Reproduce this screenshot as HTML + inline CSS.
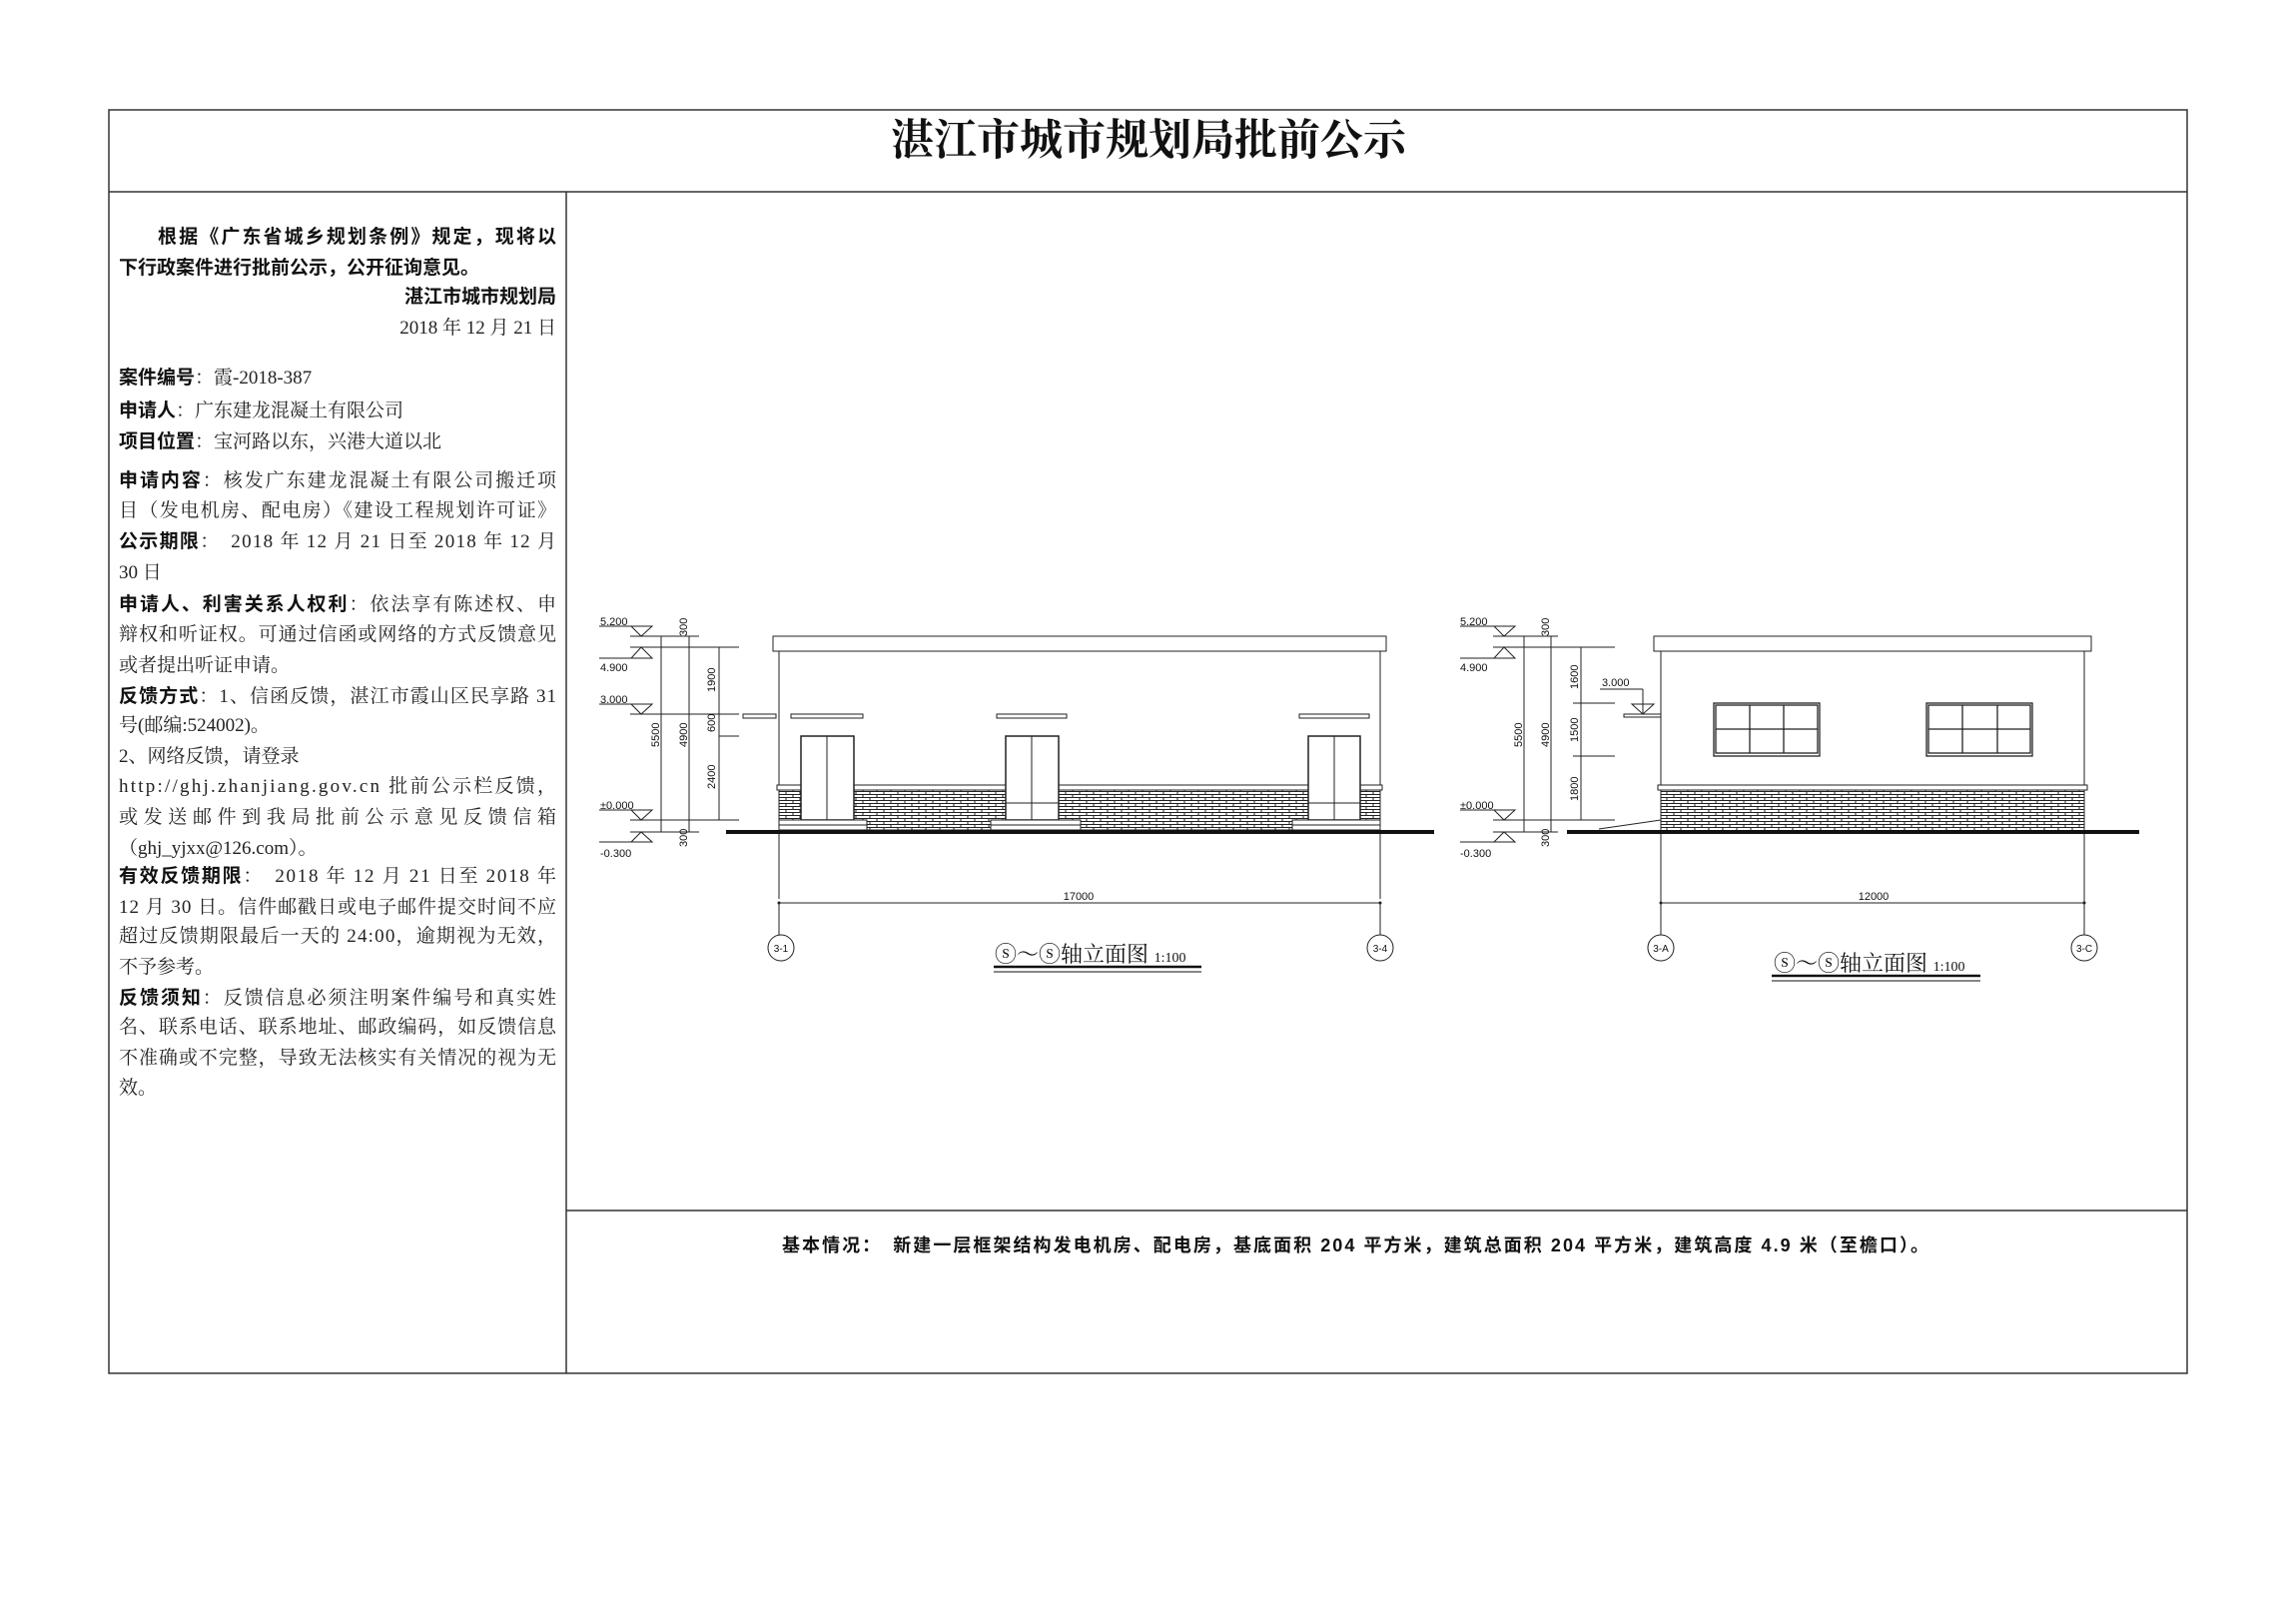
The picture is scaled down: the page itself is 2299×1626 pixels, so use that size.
<!DOCTYPE html>
<html><head><meta charset="utf-8"><style>
html,body{margin:0;padding:0;background:#fff}
svg{display:block}
.n{font-family:"Liberation Serif","Noto Serif CJK SC",serif;font-size:19px;fill:#222}
.b{font-family:"Liberation Sans","Noto Sans CJK SC",sans-serif;font-weight:bold;fill:#111}
.d{font-family:"Liberation Sans",sans-serif;font-size:11px;fill:#111}
</style></head><body>
<svg width="2299" height="1626" viewBox="0 0 2299 1626" xmlns="http://www.w3.org/2000/svg">
<defs>
<pattern id="brick" width="14" height="6" patternUnits="userSpaceOnUse">
<rect width="14" height="6" fill="#fff"/>
<path d="M0 0.5H14M0 3.5H14M3 0.5V3.5M10 3.5V6.5" stroke="#222" stroke-width="1" fill="none"/>
</pattern>
</defs>
<g fill="none" stroke="#333" stroke-width="1.5">
<rect x="109" y="110" width="2081" height="1265"/>
<line x1="109" y1="192" x2="2190" y2="192"/>
<line x1="567" y1="192" x2="567" y2="1375"/>
<line x1="567" y1="1212" x2="2190" y2="1212"/>
</g>
<text x="1150" y="155" text-anchor="middle" font-family="Liberation Serif,'Noto Serif CJK SC',serif" font-weight="bold" font-size="43" fill="#111">湛江市城市规划局批前公示</text>
<text x="783" y="1253" class="b" font-size="18" font-family="'Noto Serif CJK SC',serif" textLength="1148" lengthAdjust="spacing">基本情况：　新建一层框架结构发电机房、配电房，基底面积 204 平方米，建筑总面积 204 平方米，建筑高度 4.9 米（至檐口）。</text>

<!-- left text -->
<g class="n">
<text x="158" y="243" class="b" font-size="19" textLength="399" lengthAdjust="spacing">根据《广东省城乡规划条例》规定，现将以</text>
<text x="119" y="274" class="b" font-size="19">下行政案件进行批前公示，公开征询意见。</text>
<text x="557" y="303" class="b" font-size="19" text-anchor="end">湛江市城市规划局</text>
<text x="557" y="334" text-anchor="end">2018 年 12 月 21 日</text>
<text x="119" y="384"><tspan class="b">案件编号</tspan>：霞-2018-387</text>
<text x="119" y="417"><tspan class="b">申请人</tspan>：广东建龙混凝土有限公司</text>
<text x="119" y="448"><tspan class="b">项目位置</tspan>：宝河路以东，兴港大道以北</text>
<text x="119" y="487" textLength="438" lengthAdjust="spacing"><tspan class="b">申请内容</tspan>：核发广东建龙混凝土有限公司搬迁项</text>
<text x="119" y="517" textLength="438" lengthAdjust="spacing">目（发电机房、配电房）《建设工程规划许可证》</text>
<text x="119" y="548" textLength="438" lengthAdjust="spacing"><tspan class="b">公示期限</tspan>：　2018 年 12 月 21 日至 2018 年 12 月</text>
<text x="119" y="579">30 日</text>
<text x="119" y="611" textLength="438" lengthAdjust="spacing"><tspan class="b">申请人、利害关系人权利</tspan>：依法享有陈述权、申</text>
<text x="119" y="641" textLength="438" lengthAdjust="spacing">辩权和听证权。可通过信函或网络的方式反馈意见</text>
<text x="119" y="672">或者提出听证申请。</text>
<text x="119" y="703" textLength="438" lengthAdjust="spacing"><tspan class="b">反馈方式</tspan>：1、信函反馈，湛江市霞山区民享路 31</text>
<text x="119" y="732">号(邮编:524002)。</text>
<text x="119" y="763">2、网络反馈，请登录</text>
<text x="119" y="793" textLength="438" lengthAdjust="spacing">http://ghj.zhanjiang.gov.cn 批前公示栏反馈，</text>
<text x="119" y="824" textLength="438" lengthAdjust="spacing">或发送邮件到我局批前公示意见反馈信箱</text>
<text x="119" y="855">（ghj_yjxx@126.com）。</text>
<text x="119" y="883" textLength="438" lengthAdjust="spacing"><tspan class="b">有效反馈期限</tspan>：　2018 年 12 月 21 日至 2018 年</text>
<text x="119" y="914" textLength="438" lengthAdjust="spacing">12 月 30 日。信件邮戳日或电子邮件提交时间不应</text>
<text x="119" y="943" textLength="438" lengthAdjust="spacing">超过反馈期限最后一天的 24:00，逾期视为无效，</text>
<text x="119" y="974">不予参考。</text>
<text x="119" y="1005" textLength="438" lengthAdjust="spacing"><tspan class="b">反馈须知</tspan>：反馈信息必须注明案件编号和真实姓</text>
<text x="119" y="1034" textLength="438" lengthAdjust="spacing">名、联系电话、联系地址、邮政编码，如反馈信息</text>
<text x="119" y="1065" textLength="438" lengthAdjust="spacing">不准确或不完整，导致无法核实有关情况的视为无</text>
<text x="119" y="1095">效。</text>
</g>

<!-- ELEVATION 1 -->
<g stroke="#222" stroke-width="1" fill="none">
<line x1="600" y1="627" x2="653" y2="627"/><path d="M632 627L653 627L642 637Z"/>
<line x1="631" y1="637" x2="700" y2="637"/>
<line x1="631" y1="648" x2="740" y2="648"/><path d="M632 659L653 659L642 648Z"/><line x1="600" y1="659" x2="653" y2="659"/>
<line x1="600" y1="705" x2="653" y2="705"/><path d="M632 705L653 705L642 715Z"/><line x1="631" y1="715" x2="740" y2="715"/>
<line x1="720" y1="737" x2="740" y2="737"/>
<line x1="600" y1="811" x2="653" y2="811"/><path d="M632 811L653 811L642 821Z"/><line x1="631" y1="821" x2="740" y2="821"/>
<path d="M632 843L653 843L642 833Z"/><line x1="600" y1="843" x2="653" y2="843"/>
<line x1="631" y1="833" x2="700" y2="833"/>
<line x1="662" y1="637" x2="662" y2="833"/>
<line x1="690" y1="637" x2="690" y2="833"/>
<line x1="720" y1="648" x2="720" y2="821"/>
<rect x="774" y="637" width="614" height="15" fill="#fff"/>
<line x1="780" y1="652" x2="780" y2="900"/>
<line x1="1382" y1="652" x2="1382" y2="900"/>
<rect x="780" y="791" width="602" height="40" fill="url(#brick)"/>
<rect x="778" y="786" width="606" height="5" fill="#fff"/>
<rect x="744" y="715" width="33" height="4" fill="#fff"/>
<rect x="792" y="715" width="72" height="4" fill="#fff"/>
<rect x="998" y="715" width="70" height="4" fill="#fff"/>
<rect x="1301" y="715" width="70" height="4" fill="#fff"/>
<rect x="802" y="737" width="53" height="84" fill="#fff" stroke-width="1.5"/><line x1="828" y1="737" x2="828" y2="821"/>
<rect x="1007" y="737" width="53" height="84" fill="#fff" stroke-width="1.5"/><line x1="1033" y1="737" x2="1033" y2="821"/><line x1="1007" y1="804" x2="1060" y2="804"/>
<rect x="1310" y="737" width="52" height="84" fill="#fff" stroke-width="1.5"/><line x1="1336" y1="737" x2="1336" y2="821"/><line x1="1310" y1="804" x2="1362" y2="804"/>
<rect x="780" y="821" width="88" height="10" fill="#fff"/><line x1="780" y1="826" x2="868" y2="826"/>
<rect x="992" y="821" width="90" height="10" fill="#fff"/><line x1="992" y1="826" x2="1082" y2="826"/>
<rect x="1294" y="821" width="88" height="10" fill="#fff"/><line x1="1294" y1="826" x2="1382" y2="826"/>
<line x1="780" y1="904" x2="1382" y2="904"/>
<line x1="780" y1="936" x2="780" y2="904"/><line x1="1382" y1="936" x2="1382" y2="904"/>
<circle cx="782" cy="949" r="13"/><circle cx="1382" cy="949" r="13"/>
</g>
<circle cx="780" cy="904" r="1.5" fill="#222"/><circle cx="1382" cy="904" r="1.5" fill="#222"/>
<line x1="727" y1="833" x2="1436" y2="833" stroke="#111" stroke-width="4"/>
<g class="d">
<text x="601" y="626">5.200</text><text x="601" y="672">4.900</text><text x="601" y="704">3.000</text>
<text x="601" y="810">±0.000</text><text x="601" y="858">-0.300</text>
<text transform="translate(688,637) rotate(-90)">300</text>
<text transform="translate(716,693) rotate(-90)">1900</text>
<text transform="translate(716,733) rotate(-90)">600</text>
<text transform="translate(716,790) rotate(-90)">2400</text>
<text transform="translate(660,748) rotate(-90)">5500</text>
<text transform="translate(688,748) rotate(-90)">4900</text>
<text transform="translate(688,848) rotate(-90)">300</text>
<text x="1080" y="901" text-anchor="middle">17000</text>
<text x="782" y="953" text-anchor="middle" font-size="10">3-1</text>
<text x="1382" y="953" text-anchor="middle" font-size="10">3-4</text>
</g>
<text x="996" y="963" font-family="'Noto Serif CJK SC',serif" font-size="22" fill="#111">ⓢ～ⓢ轴立面图 <tspan font-size="14" font-family="Liberation Serif,serif">1:100</tspan></text>
<line x1="995" y1="968" x2="1203" y2="968" stroke="#111" stroke-width="2.5"/>
<line x1="995" y1="973" x2="1203" y2="973" stroke="#111" stroke-width="1"/>

<!-- ELEVATION 2 -->
<g stroke="#222" stroke-width="1" fill="none">
<line x1="1462" y1="627" x2="1517" y2="627"/><path d="M1496 627L1517 627L1506 637Z"/>
<line x1="1495" y1="637" x2="1560" y2="637"/>
<line x1="1495" y1="648" x2="1617" y2="648"/><path d="M1496 659L1517 659L1506 648Z"/><line x1="1462" y1="659" x2="1517" y2="659"/>
<line x1="1575" y1="704" x2="1617" y2="704"/>
<line x1="1575" y1="757" x2="1617" y2="757"/>
<line x1="1462" y1="811" x2="1517" y2="811"/><path d="M1496 811L1517 811L1506 821Z"/><line x1="1495" y1="821" x2="1617" y2="821"/>
<path d="M1496 843L1517 843L1506 833Z"/><line x1="1462" y1="843" x2="1517" y2="843"/>
<line x1="1495" y1="833" x2="1560" y2="833"/>
<line x1="1526" y1="637" x2="1526" y2="833"/>
<line x1="1553" y1="637" x2="1553" y2="833"/>
<line x1="1583" y1="648" x2="1583" y2="821"/>
<line x1="1602" y1="690" x2="1645" y2="690"/>
<line x1="1645" y1="690" x2="1645" y2="715"/>
<path d="M1634 705L1656 705L1645 715Z"/>
<rect x="1626" y="715" width="37" height="3" fill="#fff"/>
<rect x="1656" y="637" width="438" height="15" fill="#fff"/>
<line x1="1663" y1="652" x2="1663" y2="936"/>
<line x1="2087" y1="652" x2="2087" y2="936"/>
<rect x="1663" y="791" width="424" height="42" fill="url(#brick)"/>
<rect x="1660" y="786" width="430" height="5" fill="#fff"/>
<line x1="1601" y1="830" x2="1663" y2="821"/>
<g stroke-width="1.3">
<rect x="1716" y="704" width="106" height="53"/><rect x="1718" y="706" width="102" height="48"/>
<line x1="1752" y1="706" x2="1752" y2="754"/><line x1="1786" y1="706" x2="1786" y2="754"/><line x1="1718" y1="730" x2="1820" y2="730"/>
<rect x="1929" y="704" width="106" height="53"/><rect x="1931" y="706" width="102" height="48"/>
<line x1="1965" y1="706" x2="1965" y2="754"/><line x1="2000" y1="706" x2="2000" y2="754"/><line x1="1931" y1="730" x2="2033" y2="730"/>
</g>
<line x1="1663" y1="904" x2="2087" y2="904"/>
<circle cx="1663" cy="949" r="13"/><circle cx="2087" cy="949" r="13"/>
</g>
<circle cx="1663" cy="904" r="1.5" fill="#222"/><circle cx="2087" cy="904" r="1.5" fill="#222"/>
<line x1="1569" y1="833" x2="2142" y2="833" stroke="#111" stroke-width="4"/>
<g class="d">
<text x="1462" y="626">5.200</text><text x="1462" y="672">4.900</text><text x="1604" y="687">3.000</text>
<text x="1462" y="810">±0.000</text><text x="1462" y="858">-0.300</text>
<text transform="translate(1551,637) rotate(-90)">300</text>
<text transform="translate(1580,690) rotate(-90)">1600</text>
<text transform="translate(1580,743) rotate(-90)">1500</text>
<text transform="translate(1580,802) rotate(-90)">1800</text>
<text transform="translate(1524,748) rotate(-90)">5500</text>
<text transform="translate(1551,748) rotate(-90)">4900</text>
<text transform="translate(1551,848) rotate(-90)">300</text>
<text x="1876" y="901" text-anchor="middle">12000</text>
<text x="1663" y="953" text-anchor="middle" font-size="10">3-A</text>
<text x="2087" y="953" text-anchor="middle" font-size="10">3-C</text>
</g>
<text x="1776" y="972" font-family="'Noto Serif CJK SC',serif" font-size="22" fill="#111">ⓢ～ⓢ轴立面图 <tspan font-size="14" font-family="Liberation Serif,serif">1:100</tspan></text>
<line x1="1774" y1="977" x2="1983" y2="977" stroke="#111" stroke-width="2.5"/>
<line x1="1774" y1="982" x2="1983" y2="982" stroke="#111" stroke-width="1"/>
</svg>
</body></html>
